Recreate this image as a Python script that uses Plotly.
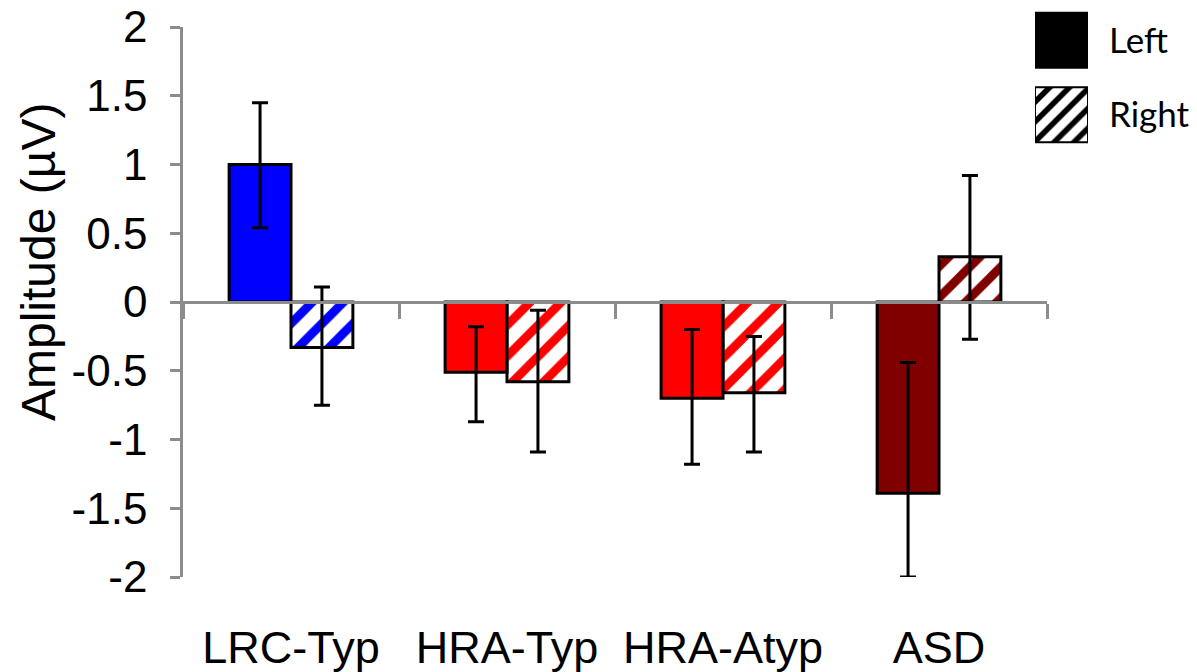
import plotly.graph_objects as go

# ---- data ----
categories = ["LRC-Typ", "HRA-Typ", "HRA-Atyp", "ASD"]
left_mean = [1.00, -0.51, -0.70, -1.39]
left_err_plus = [0.45, 0.33, 0.50, 0.95]
left_err_minus = [0.46, 0.36, 0.48, 0.61]
right_mean = [-0.33, -0.58, -0.66, 0.33]
right_err_plus = [0.44, 0.52, 0.41, 0.59]
right_err_minus = [0.42, 0.51, 0.43, 0.60]
group_colors = ["#0000FF", "#FF0000", "#FF0000", "#800000"]
y_ticks = [2, 1.5, 1, 0.5, 0, -0.5, -1, -1.5, -2]
y_tick_text = ["2", "1.5", "1", "0.5", "0", "-0.5", "-1", "-1.5", "-2"]
legend_labels = ["Left", "Right"]
legend_key_value = [1]
y_title = "Amplitude (µV)"

W, H = 1197, 672
AXIS_GRAY = "#8C8C8C"
FONT = "Liberation Sans, Arial, sans-serif"

def px_x(p):
    return p / W

def px_y(p):
    return (H - p) / H

x_dom = [px_x(183), px_x(1047)]
y_dom = [px_y(577), px_y(27)]

fig = go.Figure()

fig.add_trace(go.Bar(
    x=categories, y=left_mean, name="Left",
    marker=dict(color=group_colors, line=dict(color="black", width=3)),
    error_y=dict(type="data", symmetric=False, array=left_err_plus,
                 arrayminus=left_err_minus, color="black", thickness=3, width=8),
    xaxis="x", yaxis="y", showlegend=False,
))
fig.add_trace(go.Bar(
    x=categories, y=right_mean, name="Right",
    marker=dict(color=group_colors, line=dict(color="black", width=3),
                pattern=dict(shape="/", fgcolor=group_colors, bgcolor="white",
                             size=22, solidity=0.4, fillmode="replace")),
    error_y=dict(type="data", symmetric=False, array=right_err_plus,
                 arrayminus=right_err_minus, color="black", thickness=3, width=8),
    xaxis="x", yaxis="y", showlegend=False,
))

# invisible carrier so the category-label axis is drawn
fig.add_trace(go.Scatter(
    x=categories, y=left_mean, mode="markers", marker=dict(opacity=0),
    xaxis="x2", yaxis="y", showlegend=False, hoverinfo="skip",
))

# legend keys drawn as bars on a small axis pair
fig.add_trace(go.Bar(
    y=[legend_labels[0]], x=legend_key_value, orientation="h", width=0.74,
    offsetgroup="legend",
    marker=dict(color="black", line=dict(color="black", width=2)),
    xaxis="x3", yaxis="y3", showlegend=False, hoverinfo="skip",
))
fig.add_trace(go.Bar(
    y=[legend_labels[1]], x=legend_key_value, orientation="h", width=0.74,
    offsetgroup="legend",
    marker=dict(color="black", line=dict(color="black", width=2),
                pattern=dict(shape="/", fgcolor="black", bgcolor="white",
                             size=14, solidity=0.4, fillmode="replace")),
    xaxis="x3", yaxis="y3", showlegend=False, hoverinfo="skip",
))

fig.update_layout(
    width=W, height=H,
    margin=dict(l=0, r=0, t=0, b=0),
    paper_bgcolor="white", plot_bgcolor="rgba(0,0,0,0)",
    barmode="group", bargap=0.427, bargroupgap=0,
    font=dict(family=FONT, color="black"),
    xaxis=dict(
        domain=x_dom, type="category", categoryarray=categories,
        range=[-0.5, 3.5], anchor="free", position=(y_dom[0] + y_dom[1]) / 2,
        showline=True, linecolor=AXIS_GRAY, linewidth=2.5,
        ticks="outside", tickson="boundaries", ticklen=15, tickwidth=2.5,
        tickcolor=AXIS_GRAY, showticklabels=False, showgrid=False,
        zeroline=False, automargin=False,
    ),
    xaxis2=dict(
        domain=x_dom, overlaying="x", type="category", categoryarray=categories,
        range=[-0.5, 3.5], anchor="free", position=px_y(617),
        tickfont=dict(size=45, family=FONT), showline=False, ticks="",
        showgrid=False, zeroline=False, automargin=False,
    ),
    yaxis=dict(
        domain=y_dom, range=[-2, 2], anchor="x",
        tickmode="array", tickvals=y_ticks, ticktext=y_tick_text,
        tickfont=dict(size=44, family=FONT),
        showline=True, linecolor=AXIS_GRAY, linewidth=2.5,
        ticks="outside", ticklen=10, tickwidth=2.5, tickcolor=AXIS_GRAY,
        ticklabelstandoff=14,
        showgrid=False, zeroline=False, automargin=False,
    ),
    xaxis3=dict(
        domain=[px_x(1035), px_x(1088)], range=[0, 1], anchor="y3",
        visible=False, fixedrange=True,
    ),
    yaxis3=dict(
        domain=[px_y(152), px_y(3)], anchor="x3", type="category",
        categoryarray=legend_labels, range=[1.5, -0.5], side="right",
        showline=False, ticks="", showgrid=False, zeroline=False,
        tickfont=dict(size=35, family="Lato, Carlito, sans-serif"),
        ticklabelstandoff=20, automargin=False,
    ),
    annotations=[dict(
        text=y_title, textangle=-90, xref="paper", yref="paper",
        x=px_x(39), y=px_y(262), xanchor="center", yanchor="middle",
        showarrow=False, font=dict(size=48, family=FONT, color="black"),
    )],
)

fig.write_html("out.html")
